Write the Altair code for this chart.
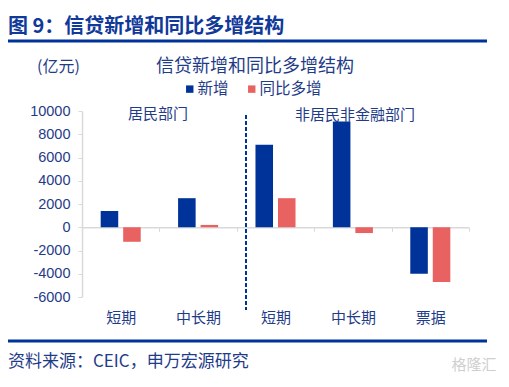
import altair as alt
import pandas as pd

# ---- data ----
categories = ["居民-短期", "居民-中长期", "企业-短期", "企业-中长期", "企业-票据"]
series = ["新增", "同比多增"]
new_vals = [1400, 2500, 7100, 9100, -4000]
yoy_vals = [-1250, 200, 2500, -500, -4700]
y_ticks = [-6000, -4000, -2000, 0, 2000, 4000, 6000, 8000, 10000]

rows = []
for c, a, b in zip(categories, new_vals, yoy_vals):
    rows.append({"cat": c, "series": series[0], "value": a})
    rows.append({"cat": c, "series": series[1], "value": b})
df = pd.DataFrame(rows)

W, H = 387, 186
NAVY = "#1f3c88"
BLUE = "#003399"
RED = "#e86262"
GRAY = "#d9d9d9"
CJK = "Noto Sans CJK SC"
LAT = "Liberation Sans"

bars = alt.Chart(df).mark_bar().encode(
    x=alt.X(
        "cat:N", sort=categories,
        scale=alt.Scale(paddingInner=0, paddingOuter=0),
        axis=alt.Axis(
            title=None, offset=-0.375 * H, labelExpr="split(datum.label,'-')[1]",
            labelAngle=0, tickBand="extent", tickSize=4, tickColor=GRAY,
            domainColor=GRAY, domainWidth=1.5, labelPadding=79, labelFont=CJK,
            labelFontSize=15, labelColor=NAVY, grid=False,
        ),
    ),
    xOffset=alt.XOffset("series:N", sort=series,
                        scale=alt.Scale(paddingInner=0.22, paddingOuter=0.83)),
    y=alt.Y(
        "value:Q",
        scale=alt.Scale(domain=[-6000, 10000], nice=False, zero=False),
        axis=alt.Axis(
            title=None, values=y_ticks, labelExpr="datum.value + ''", grid=False,
            domainColor=GRAY, domainWidth=1.5, tickColor=GRAY, tickSize=4,
            labelFont=LAT, labelFontSize=14.5, labelColor=NAVY, labelPadding=8,
        ),
    ),
    color=alt.Color(
        "series:N", sort=series,
        scale=alt.Scale(domain=series, range=[BLUE, RED]),
        legend=alt.Legend(
            orient="none", legendX=100, legendY=-30, direction="horizontal",
            title=None, symbolType="square", symbolSize=55, symbolStrokeWidth=0,
            labelFont=CJK, labelFontSize=15.5, labelColor=NAVY,
            columnPadding=15, labelOffset=0,
        ),
    ),
)


def label(txt, x, y, size, color=NAVY, font=CJK, weight="normal", align="center"):
    return alt.Chart(pd.DataFrame({"t": [txt]})).mark_text(
        font=font, fontSize=size, color=color, fontWeight=weight,
        align=align, baseline="middle",
    ).encode(x=alt.value(x), y=alt.value(y), text="t:N")


def hrule(y, x1, x2, color, width):
    return alt.Chart(pd.DataFrame({"a": [0]})).mark_rule(
        color=color, strokeWidth=width
    ).encode(x=alt.value(x1), x2=alt.value(x2), y=alt.value(y))


dashed = alt.Chart(pd.DataFrame({"a": [0]})).mark_rule(
    color=BLUE, strokeWidth=2, strokeDash=[4, 2]
).encode(x=alt.value(164), y=alt.value(4), y2=alt.value(199))

layers = [
    bars,
    dashed,
    label("图 9：信贷新增和同比多增结构", -74, -84, 20, color="#10399a", weight="bold", align="left"),
    hrule(-70, -74, 405, BLUE, 3),
    label("信贷新增和同比多增结构", 173, -44, 18),
    label("(亿元)", -45, -44, 16, align="left"),
    label("居民部门", 76, 3, 15),
    label("非居民非金融部门", 273, 4, 15),
    hrule(230, -74, 405, BLUE, 3),
    label("资料来源：CEIC，申万宏源研究", -74, 251, 17, align="left"),
    label("格隆汇", 392, 254, 15, color="#cfcfcf"),
]

chart = alt.layer(*layers).properties(
    width=W, height=H,
    padding={"left": 74, "top": 103, "right": 32, "bottom": 78},
    autosize=alt.AutoSizeParams(type="none"),
).configure_view(stroke=None)

chart.save("out.html", embed_options={"renderer": "svg", "actions": False})
